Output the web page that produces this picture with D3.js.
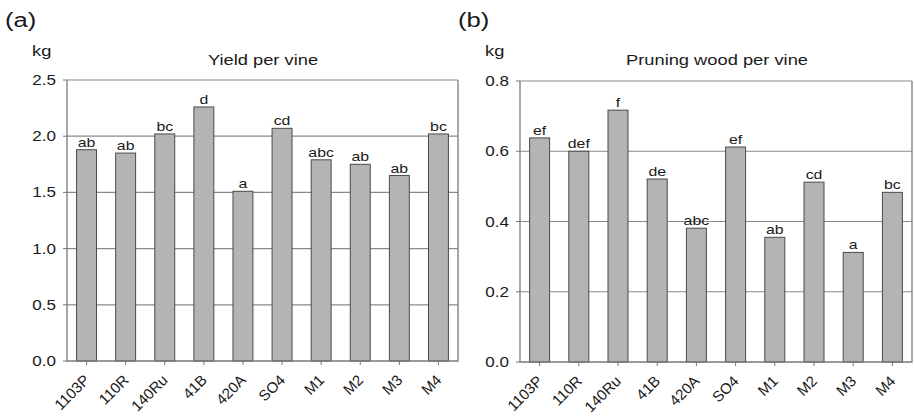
<!DOCTYPE html>
<html>
<head>
<meta charset="utf-8">
<script src="https://cdn.jsdelivr.net/npm/d3@7"></script>
<style>
  body { margin: 0; background: #fff; }
  text { font-family: Arial, "Liberation Sans", sans-serif; fill: #1a1a1a; }
</style>
</head>
<body>
<svg width="914" height="419"></svg>
<script>
// rootstocks
var rootstocks = ["1103P", "110R", "140Ru", "41B", "420A", "SO4", "M1", "M2", "M3", "M4"];

// yield per vine (kg) + letters
var yieldVals = [1.88, 1.85, 2.02, 2.26, 1.51, 2.07, 1.79, 1.75, 1.65, 2.02];
var yieldLetters = ["ab", "ab", "bc", "d", "a", "cd", "abc", "ab", "ab", "bc"];
var yieldTicks = [0.0, 0.5, 1.0, 1.5, 2.0, 2.5];

// pruning wood per vine (kg) + letters
var pruneVals = [0.638, 0.600, 0.717, 0.521, 0.381, 0.612, 0.355, 0.512, 0.312, 0.483];
var pruneLetters = ["ef", "def", "f", "de", "abc", "ef", "ab", "cd", "a", "bc"];
var pruneTicks = [0.0, 0.2, 0.4, 0.6, 0.8];

var svg = d3.select("svg");
var sx = 1.22; // the figure is a bit wide, text stretched sideways

function txt(g, x, y, str, size, anchor, rot) {
  var t = "translate(" + x + "," + y + ")" + (rot ? " rotate(" + rot + ")" : " scale(" + sx + ",1)");
  return g.append("text")
    .attr("transform", t)
    .attr("font-size", size)
    .attr("text-anchor", anchor)
    .text(str);
}

function panel(opt) {
  var g = svg.append("g");
  var x = d3.scaleBand().domain(rootstocks).range([opt.x0, opt.x1]).paddingInner(0.49).paddingOuter(0.245);
  var y = d3.scaleLinear().domain([0, opt.ticks[opt.ticks.length - 1]]).range([opt.y1, opt.y0]);

  // panel letter, unit, title
  txt(g, opt.x0 - 62, 27, opt.tag, 21, "start");
  txt(g, opt.x0 - 35, 56, "kg", 15, "start");
  txt(g, opt.titleX, 65, opt.title, 15, "middle");

  // gridlines
  g.selectAll(".grid").data(opt.ticks.slice(1)).enter().append("line")
    .attr("x1", opt.x0).attr("x2", opt.x1)
    .attr("y1", function(d) { return y(d); }).attr("y2", function(d) { return y(d); })
    .attr("stroke", "#8a8a8a").attr("stroke-width", 1.2);

  // y ticks + labels
  g.selectAll(".yt").data(opt.ticks).enter().append("line")
    .attr("x1", opt.x0 - 4).attr("x2", opt.x0)
    .attr("y1", function(d) { return y(d); }).attr("y2", function(d) { return y(d); })
    .attr("stroke", "#777");
  opt.ticks.forEach(function(t) {
    txt(g, opt.x0 - 11, y(t) + 5, d3.format(".1f")(t), 14, "end");
  });

  // bars
  g.selectAll(".bar").data(opt.vals).enter().append("rect")
    .attr("x", function(d, i) { return x(rootstocks[i]); })
    .attr("width", x.bandwidth())
    .attr("y", function(d) { return y(d); })
    .attr("height", function(d) { return y(0) - y(d); })
    .attr("fill", "#b4b4b4")
    .attr("stroke", "#4a4a4a")
    .attr("stroke-width", 1);

  // letters above bars
  opt.vals.forEach(function(v, i) {
    txt(g, x(rootstocks[i]) + x.bandwidth() / 2, y(v) - 3, opt.letters[i], 13, "middle");
  });

  // frame
  g.append("path")
    .attr("d", "M" + opt.x0 + "," + opt.y0 + "V" + opt.y1 + "H" + opt.x1 + "V" + opt.y0)
    .attr("fill", "none").attr("stroke", "#7a7a7a").attr("stroke-width", 1.3);

  // x ticks + rotated labels
  rootstocks.forEach(function(r) {
    var cx = x(r) + x.bandwidth() / 2;
    g.append("line").attr("x1", cx).attr("x2", cx).attr("y1", opt.y1).attr("y2", opt.y1 + 4).attr("stroke", "#777");
    txt(g, cx + 4, opt.y1 + 20, r, 15, "end", -45);
  });
}

panel({x0: 67, x1: 458, y0: 80, y1: 361, ticks: yieldTicks, vals: yieldVals, letters: yieldLetters,
       tag: "(a)", title: "Yield per vine", titleX: 263});
panel({x0: 520, x1: 912, y0: 81, y1: 362, ticks: pruneTicks, vals: pruneVals, letters: pruneLetters,
       tag: "(b)", title: "Pruning wood per vine", titleX: 717});
</script>
</body>
</html>
